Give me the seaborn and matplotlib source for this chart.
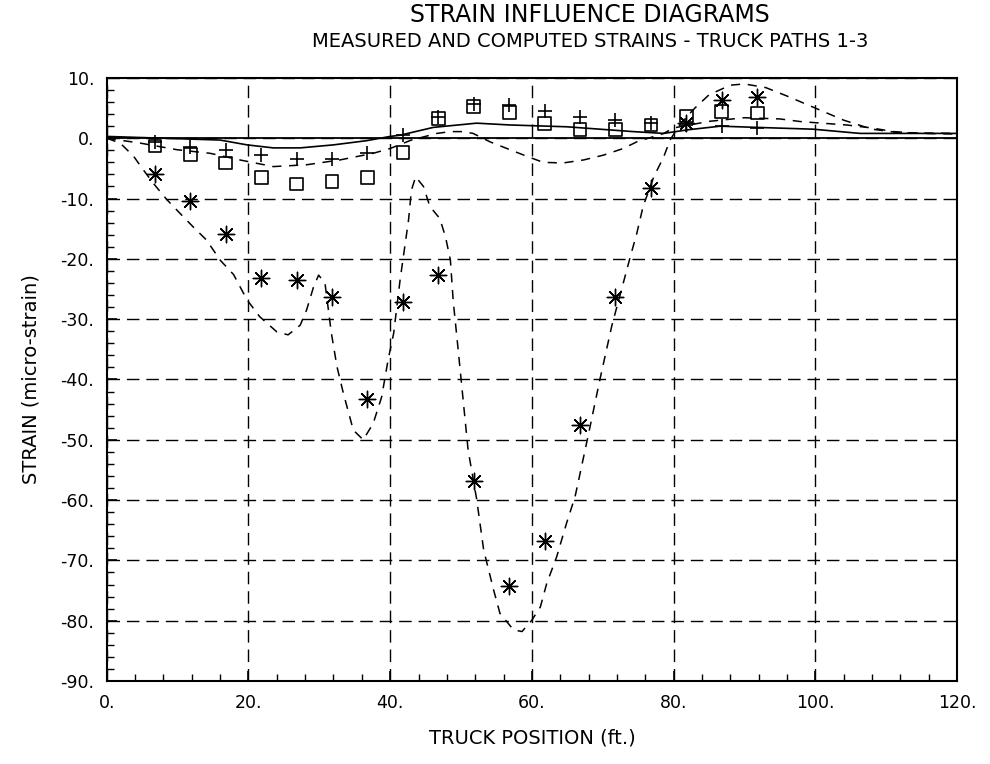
import matplotlib
matplotlib.use("Agg")
import matplotlib.pyplot as plt
from matplotlib.ticker import MultipleLocator, FuncFormatter
import seaborn as sns

# Measured strains at the gauge, one value per truck position (ft)
truck_pos = [6.8, 11.8, 16.8, 21.8, 26.8, 31.8, 36.8, 41.8, 46.8,
             51.8, 56.8, 61.8, 66.8, 71.8, 76.8, 81.8, 86.8, 91.8]
meas_path1 = [-0.6, -1.4, -1.9, -2.8, -3.5, -3.5, -2.5, 0.5, 3.5,
              5.6, 5.5, 4.5, 3.6, 3.0, 2.5, 2.2, 2.0, 1.7]
meas_path2 = [-1.3, -2.7, -4.1, -6.5, -7.6, -7.2, -6.5, -2.3, 3.3,
              5.2, 4.3, 2.4, 1.5, 1.5, 2.2, 3.7, 4.5, 4.2]
meas_path3 = [-6.0, -10.4, -15.9, -23.2, -23.5, -26.3, -43.2, -27.1, -22.7,
              -56.8, -74.2, -66.7, -47.5, -26.3, -8.2, 2.5, 6.3, 6.8]

# Computed influence lines
calc1_x = [0, 8, 16, 19.8, 23.5, 27.3, 32, 36.7, 40, 41.4, 46.1, 52.2, 56.9,
           64.9, 69.6, 74.3, 78.6, 82, 86.6, 91.7, 99.7, 106.3, 113, 120]
calc1_y = [0.3, 0.0, -0.3, -1.1, -1.6, -1.6, -1.1, -0.4, 0.3, 0.5, 1.8, 2.5, 2.2,
           1.9, 1.5, 1.1, 0.8, 1.4, 2.0, 1.8, 1.5, 0.8, 0.8, 0.8]

calc2_x = [0, 4.7, 9.9, 14.6, 18.8, 23.5, 28.2, 32.9, 37.6, 40.0, 43.0, 46.6,
           48.5, 50.3, 51.7, 54.1, 56.9, 59.3, 61.6, 64.4, 67.3, 70.1, 72.9,
           74.8, 78.6, 80.0, 85.0, 90.0, 95.0, 98.0, 104.4, 108.0, 111.0, 115.0, 120.0]
calc2_y = [0, -0.8, -1.9, -2.5, -3.6, -4.7, -4.4, -3.6, -2.5, -1.7, -0.3, 0.8,
           1.1, 1.1, 0.8, -0.6, -1.9, -3.0, -4.0, -4.1, -3.6, -2.8, -1.7,
           -0.6, 0.8, 1.7, 2.8, 3.4, 3.2, 2.75, 2.2, 1.7, 1.1, 0.8, 0.7]

calc3_x = [0, 1.9, 3.8, 5.2, 6.6, 8.5, 10.3, 12.2, 14.1, 16.0, 17.9, 19.8, 21.6,
           24.0, 25.6, 27.3, 28.2, 29.2, 29.9, 30.8, 31.7, 32.5, 33.4, 34.8,
           36.2, 37.6, 38.8, 39.7, 40.5, 41.4, 42.6, 43.0, 43.6, 44.7, 45.6,
           47.0, 47.8, 48.5, 48.9, 49.6, 50.3, 51.0, 52.2, 53.2, 54.6, 55.5,
           57.4, 58.6, 60.0, 61.2, 62.1, 63.5, 64.9, 66.1, 67.0, 68.0, 69.6,
           71.3, 72.9, 73.9, 74.8, 75.7, 77.2, 78.6, 79.5, 81.0, 83.0, 85.0,
           88.0, 90.0, 93.0, 96.0, 100.0, 104.0, 108.0, 112.0, 120.0]
calc3_y = [0, -0.8, -3.0, -5.3, -7.5, -10.2, -12.4, -14.7, -16.9, -20.2, -22.6,
           -26.8, -29.6, -32.1, -32.6, -31.0, -28.5, -24.6, -22.7, -24.0, -32.3,
           -37.9, -42.3, -48.4, -50.0, -47.3, -42.9, -36.8, -32.3, -23.5, -13.5,
           -8.6, -6.4, -8.0, -11.3, -13.3, -16.3, -20.2, -27.0, -35.1, -43.4,
           -51.7, -59.8, -68.3, -74.9, -78.8, -81.5, -81.8, -79.9, -77.7, -73.8,
           -69.4, -63.8, -59.4, -54.5, -49.0, -40.0, -31.0, -24.0, -19.6, -15.8,
           -11.3, -6.4, -3.1, -0.3, 2.5, 5.0, 7.2, 8.8, 9.0, 8.4, 7.0, 5.0, 3.0,
           1.5, 0.9, 0.8]

x_ticks = [0, 20, 40, 60, 80, 100, 120]
y_ticks = [10, 0, -10, -20, -30, -40, -50, -60, -70, -80, -90]

sns.set_theme(style="white")
plt.rcParams["font.family"] = ["DejaVu Sans"]

fig = plt.figure(figsize=(9.9, 7.64), dpi=100)
ax = fig.add_axes([0.1078, 0.1086, 0.8589, 0.7894])

ink = "black"
dash_curve = (0, (6, 5))

sns.lineplot(x=calc1_x, y=calc1_y, ax=ax, color=ink, lw=1.2, sort=False,
             estimator=None)
sns.lineplot(x=calc2_x, y=calc2_y, ax=ax, color=ink, lw=1.1, sort=False,
             estimator=None, linestyle=dash_curve)
sns.lineplot(x=calc3_x, y=calc3_y, ax=ax, color=ink, lw=1.1, sort=False,
             estimator=None, linestyle=dash_curve)
ax.axhline(0, color=ink, lw=1.3)

sns.scatterplot(x=truck_pos, y=meas_path1, ax=ax, marker="+", s=110,
                color=ink, linewidth=1.2, zorder=4)
sns.scatterplot(x=truck_pos, y=meas_path2, ax=ax, marker="s", s=85,
                color=ink, facecolor="none", edgecolor=ink, linewidth=1.2,
                zorder=4)
sns.scatterplot(x=truck_pos, y=meas_path3, ax=ax, marker=(8, 2, 0), s=140,
                color=ink, edgecolor=ink, linewidth=1.0, zorder=4)
sns.scatterplot(x=truck_pos, y=meas_path3, ax=ax, marker="o", s=8,
                color=ink, edgecolor=ink, linewidth=0, zorder=5)

ax.set_xlim(0, 120)
ax.set_ylim(-90, 10)
ax.set_xticks(x_ticks)
ax.set_yticks(y_ticks)
ax.xaxis.set_minor_locator(MultipleLocator(4))
ax.yaxis.set_minor_locator(MultipleLocator(2))
fmt = FuncFormatter(lambda v, p: f"{int(round(v))}.")
ax.xaxis.set_major_formatter(fmt)
ax.yaxis.set_major_formatter(fmt)

ax.grid(True, which="major", color=ink, linestyle=(0, (9, 5)), linewidth=1.0)
ax.set_axisbelow(True)
ax.tick_params(which="both", direction="in", top=False, right=False,
               left=True, bottom=True, color=ink, labelcolor=ink)
ax.tick_params(which="major", length=7, width=1.2, labelsize=12.5, pad=9)
ax.tick_params(which="minor", length=5, width=1.0)
for sp in ax.spines.values():
    sp.set_visible(True)
    sp.set_color(ink)
    sp.set_linewidth(1.5)

ax.set_xlabel("TRUCK POSITION (ft.)", fontsize=14, labelpad=12, color=ink)
ax.set_ylabel("STRAIN (micro-strain)", fontsize=14, labelpad=14, color=ink)

fig.text(0.596, 0.981, "STRAIN INFLUENCE DIAGRAMS", ha="center", va="center",
         fontsize=17, color=ink)
fig.text(0.596, 0.946, "MEASURED AND COMPUTED STRAINS - TRUCK PATHS 1-3",
         ha="center", va="center", fontsize=14, color=ink)

fig.savefig("out.png", dpi=100, facecolor="white")
